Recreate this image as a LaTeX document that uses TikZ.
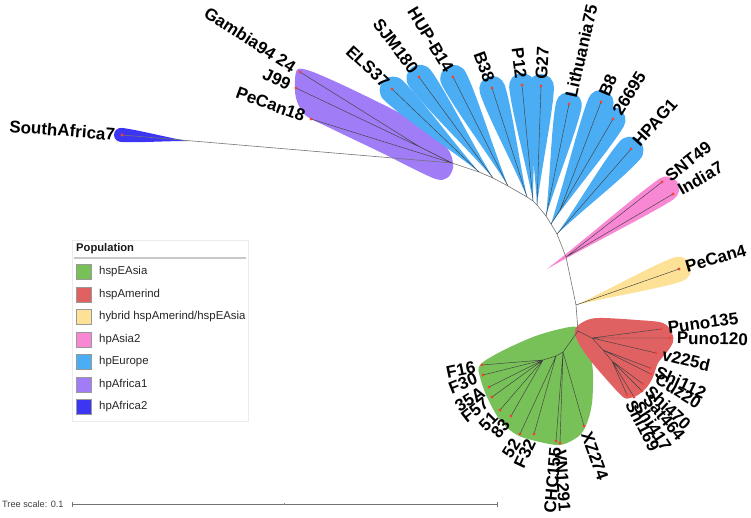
\documentclass[tikz,border=0pt]{standalone}
\usepackage{fontspec}
\setmainfont{Liberation Sans}
\definecolor{cEA}{HTML}{78C058}
\definecolor{cAm}{HTML}{E06161}
\definecolor{cHy}{HTML}{FDE196}
\definecolor{cAs}{HTML}{F887D4}
\definecolor{cEu}{HTML}{4BAEF5}
\definecolor{cAfA}{HTML}{A07CF7}
\definecolor{cAfB}{HTML}{3C35F3}
\definecolor{cDot}{HTML}{F04535}
\makeatletter
% #1 base, #2 tip (leaf), #3 half width, #4 overshoot, #5 colour
\newcommand\petal[5]{%
  \pgfpointdiff{\pgfpointanchor{#1}{center}}{\pgfpointanchor{#2}{center}}%
  \edef\pdx{\the\pgf@x}\edef\pdy{\the\pgf@y}%
  \pgfmathsetmacro\plen{veclen(\pdx,\pdy)}%
  \pgfmathsetmacro\pang{atan2(\pdy,\pdx)}%
  \pgfmathsetmacro\pc{\plen+#4-#3}%
  \fill[#5, shift={(#1)}, rotate=\pang, x=1pt, y=1pt]
    (0,0) .. controls ({0.35*\plen},{0.3*#3}) and ({\pc-1.8*#3},{#3}) .. (\pc,#3)
    arc[start angle=90, end angle=-90, radius=#3]
    .. controls ({\pc-1.8*#3},{-#3}) and ({0.35*\plen},{-0.3*#3}) .. (0,0) -- cycle;}
\makeatother
\begin{document}
\begin{tikzpicture}[x=1pt,y=-1pt,
  lab/.style={font=\fontsize{17}{17}\selectfont\bfseries, inner sep=0pt, outer xsep=7pt},
  labE/.style={lab, anchor=east},
  labW/.style={lab, anchor=west},
  br/.style={draw=black!75, line width=0.45pt},
  bk/.style={draw=black!55, line width=0.6pt},
  leafdot/.style={fill=cDot},
  sw/.style={draw=black!40, line width=0.5pt, minimum size=15pt, inner sep=0pt},
  legt/.style={font=\fontsize{11.4}{11.4}\selectfont, text=black!85, anchor=west, inner sep=0pt}]
\useasboundingbox (0,0) rectangle (751,517);

% ---------------- coordinates ----------------
% backbone
\coordinate (b1) at (452,163);
\coordinate (b2) at (479,172);
\coordinate (b3) at (493,178);
\coordinate (b4) at (508,186);
\coordinate (b5) at (527,197);
\coordinate (b6) at (533,201);
\coordinate (b7) at (537,205);
\coordinate (b8) at (546,216);
\coordinate (b9) at (551,224);
\coordinate (b10) at (557,234);
\coordinate (b11) at (566,257);
\coordinate (b12) at (576,305);
\coordinate (b13) at (578,331);
% internal nodes
\coordinate (pi) at (420,147);
\coordinate (bi) at (560,210);
\coordinate (r1) at (592,338);
\coordinate (r2) at (603,350);
\coordinate (r3) at (612,361);
\coordinate (g1) at (563,352);
\coordinate (g3) at (556,356);
\coordinate (g2) at (543,360);
\coordinate (ptip) at (547,269);
\coordinate (pmid) at (668,188);
\coordinate (d0) at (187,141);
% leaves
\coordinate (sa7) at (122,135);
\coordinate (gam) at (300,72);
\coordinate (j99) at (296,88);
\coordinate (pc18) at (311,119);
\coordinate (els) at (392,89);
\coordinate (sjm) at (419,77);
\coordinate (hup) at (453,77);
\coordinate (b38) at (492,88);
\coordinate (p12) at (522,85);
\coordinate (g27) at (541,86);
\coordinate (lit) at (569,104);
\coordinate (bb8) at (601,102);
\coordinate (n26) at (613,119);
\coordinate (hpag) at (631,149);
\coordinate (snt) at (662,182);
\coordinate (ind) at (673,194);
\coordinate (pc4) at (679,269);
\coordinate (p135) at (661,329);
\coordinate (p120) at (670,338);
\coordinate (v225) at (656,353);
\coordinate (s112) at (650,368);
\coordinate (cuz) at (651,374);
\coordinate (s470) at (643,384);
\coordinate (sat) at (642,391);
\coordinate (s417) at (634,397);
\coordinate (s169) at (627,395);
\coordinate (xz) at (584,426);
\coordinate (vn) at (560,443);
\coordinate (chc) at (556,441);
\coordinate (f32) at (534,434);
\coordinate (n52) at (520,434);
\coordinate (n83) at (511,416);
\coordinate (n51) at (500,410);
\coordinate (f57) at (492,397);
\coordinate (a35) at (489,387);
\coordinate (f30) at (483,375);
\coordinate (f16) at (482,365);

% ---------------- clade shading ----------------
\fill[cEA] plot[smooth cycle, tension=0.55] coordinates {(577,327) (584,337) (590,353) (593,373) (592,403) (587,423) (580,435) (567,443) (557,445) (540,442) (517,435) (500,420) (487,397) (480,377) (480,365) (500,352) (533,337) (560,329)};
\fill[cAm] plot[smooth cycle, tension=0.55] coordinates {(575,330) (583,322) (598,318) (637,320) (663,323) (672,333) (673,342) (667,352) (658,363) (653,377) (647,387) (638,395) (630,398) (623,397) (607,380) (590,360) (578,342)};
\petal{b12}{pc4}{12.5}{12}{cHy}
\petal{ptip}{pmid}{12.5}{11}{cAs}
\fill[cAfA] plot[smooth cycle, tension=0.5] coordinates {(298,69) (313,72) (347,87) (390,108) (420,124) (441,140) (451,155) (453,168) (447,178) (433,178) (380,152) (330,128) (305,115) (296,98) (295,80)};
\petal{b2}{els}{13.5}{12}{cEu}
\petal{b3}{sjm}{13.5}{12}{cEu}
\petal{b4}{hup}{13.5}{12}{cEu}
\petal{b5}{b38}{13}{12}{cEu}
\petal{b6}{p12}{13}{12}{cEu}
\petal{b7}{g27}{13}{12}{cEu}
\petal{b8}{lit}{13}{12}{cEu}
\petal{b9}{bb8}{13}{12}{cEu}
\petal{b9}{n26}{13}{12}{cEu}
\petal{b10}{hpag}{13.5}{12}{cEu}
\petal{d0}{sa7}{7}{8}{cAfB}

% ---------------- branches ----------------
\draw[bk] (sa7) -- (b1) -- (b2) -- (b3) -- (b4) -- (b5) -- (b6) -- (b7) -- (b8) -- (b9) -- (b10) -- (b11) -- (b12) -- (b13);
\draw[br] (gam) -- (pi) (j99) -- (pi) (pi) -- (b1) (pc18) -- (b1);
\draw[br] (els) -- (b2) (sjm) -- (b3) (hup) -- (b4) (b38) -- (b5) (p12) -- (b6) (g27) -- (b7) (lit) -- (b8);
\draw[br] (bb8) -- (bi) (n26) -- (bi) (bi) -- (b9) (hpag) -- (b10);
\draw[br] (snt) -- (b11) (ind) -- (b11) (pc4) -- (b12);
\draw[br] (b13) -- (r1) (p135) -- (r1) (p120) -- (r1) (v225) -- (r1) (r1) -- (r2) (s112) -- (r2) (cuz) -- (r2) (r2) -- (r3);
\draw[br] (s470) -- (r3) (sat) -- (r3) (s417) -- (r3) (s169) -- (r3);
\draw[br] (b13) -- (g1) (xz) -- (g1) (vn) -- (g1) (chc) -- (g1) (g1) -- (g3) (f32) -- (g3) (n52) -- (g3) (g3) -- (g2);
\draw[br] (f16) -- (g2) (f30) -- (g2) (a35) -- (g2) (f57) -- (g2) (n51) -- (g2) (n83) -- (g2);

% ---------------- leaf dots ----------------
\foreach \l in {sa7,gam,j99,pc18,els,sjm,hup,b38,p12,g27,lit,bb8,n26,hpag,snt,ind,pc4,p135,p120,v225,s112,cuz,s470,sat,s417,s169,xz,vn,chc,f32,n52,n83,n51,f57,a35,f30,f16}
  \fill[leafdot] (\l) circle[radius=1.7pt];

% ---------------- labels ----------------
\node[labE, rotate=-4.5] (Lsa7) at (sa7) {SouthAfrica7};
\node[labE, rotate=-33] (Lgam) at (gam) {Gambia94 24};
\node[labE, rotate=-25] (Lj99) at (j99) {J99};
\node[labE, rotate=-20] (Lpc18) at (pc18) {PeCan18};
\node[labE, rotate=-43] (Lels) at (els) {ELS37};
\node[labE, rotate=-53] (Lsjm) at (sjm) {SJM180};
\node[labE, rotate=-59] (Lhup) at (hup) {HUP-B14};
\node[labE, rotate=-70] (Lb38) at (b38) {B38};
\node[labE, rotate=-83] (Lp12) at (p12) {P12};
\node[labW, rotate=87] (Lg27) at (g27) {G27};
\node[labW, rotate=77] (Llit) at (lit) {Lithuania75};
\node[labW, rotate=67] (Lbb8) at (bb8) {B8};
\node[labW, rotate=58] (Ln26) at (n26) {26695};
\node[labW, rotate=48] (Lhpag) at (hpag) {HPAG1};
\node[labW, rotate=38] (Lsnt) at (snt) {SNT49};
\node[labW, rotate=30] (Lind) at (ind) {India7};
\node[labW, rotate=16] (Lpc4) at (pc4) {PeCan4};
\node[labW, rotate=8] (Lp135) at (p135) {Puno135};
\node[labW, rotate=-1] (Lp120) at (p120) {Puno120};
\node[labW, rotate=-13] (Lv225) at (v225) {v225d};
\node[labW, rotate=-25] (Ls112) at (s112) {Shi112};
\node[labW, rotate=-32] (Lcuz) at (cuz) {Cuz20};
\node[labW, rotate=-43] (Ls470) at (s470) {Shi470};
\node[labW, rotate=-50] (Lsat) at (sat) {Sat464};
\node[labW, rotate=-57] (Ls417) at (s417) {Shi417};
\node[labW, rotate=-63] (Ls169) at (s169) {Shi169};
\node[labW, rotate=-70] (Lxz) at (xz) {XZ274};
\node[labW, rotate=-86] (Lvn) at (vn) {VN1291};
\node[labE, rotate=85] (Lchc) at (chc) {CHC155};
\node[labE, rotate=65] (Lf32) at (f32) {F32};
\node[labE, rotate=58] (Ln52) at (n52) {52};
\node[labE, rotate=50] (Ln83) at (n83) {83};
\node[labE, rotate=45] (Ln51) at (n51) {51};
\node[labE, rotate=38] (Lf57) at (f57) {F57};
\node[labE, rotate=32] (La35) at (a35) {35A};
\node[labE, rotate=22] (Lf30) at (f30) {F30};
\node[labE, rotate=12] (Lf16) at (f16) {F16};

% ---------------- legend ----------------
\node[draw=black!8, fill=white, line width=0.5pt, minimum width=176pt, minimum height=181pt, inner sep=0pt, anchor=north west] (legbox) at (72,240) {};
\node[font=\fontsize{11.2}{11.2}\selectfont\bfseries, anchor=west, inner sep=0pt, text=black!90] (legtitle) at (76,249) {Population};
\draw[black!22, line width=1.5pt] (74,258) -- (246,258);
\node[sw, fill=cEA] (sw1) at (83.5,271.8) {};
\node[sw, fill=cAm] (sw2) at (83.5,294.3) {};
\node[sw, fill=cHy] (sw3) at (83.5,316.8) {};
\node[sw, fill=cAs] (sw4) at (83.5,339.3) {};
\node[sw, fill=cEu] (sw5) at (83.5,361.8) {};
\node[sw, fill=cAfA] (sw6) at (83.5,384.3) {};
\node[sw, fill=cAfB] (sw7) at (83.5,406.8) {};
\node[legt] (lt1) at (99,271.8) {hspEAsia};
\node[legt] (lt2) at (99,294.3) {hspAmerind};
\node[legt] (lt3) at (99,316.8) {hybrid hspAmerind/hspEAsia};
\node[legt] (lt4) at (99,339.3) {hpAsia2};
\node[legt] (lt5) at (99,361.8) {hpEurope};
\node[legt] (lt6) at (99,384.3) {hpAfrica1};
\node[legt] (lt7) at (99,406.8) {hpAfrica2};

% ---------------- tree scale ----------------
\node[font=\fontsize{9.2}{9.2}\selectfont, text=black!75, anchor=west, inner sep=0pt] (tscale) at (2,504) {Tree scale: 0.1};
\coordinate (sc0) at (72,504);
\coordinate (sc1) at (497,504);
\coordinate (scm) at (284.5,504);
\draw[black!55, line width=0.7pt] (sc0) -- (sc1);
\draw[black!55, line width=0.7pt] ([yshift=-2.5pt]sc0) -- ([yshift=2.5pt]sc0);
\draw[black!55, line width=0.7pt] ([yshift=-2.5pt]sc1) -- ([yshift=2.5pt]sc1);
\draw[black!45, line width=0.5pt] ([yshift=-1pt]scm) -- ([yshift=1pt]scm);
\end{tikzpicture}
\end{document}
